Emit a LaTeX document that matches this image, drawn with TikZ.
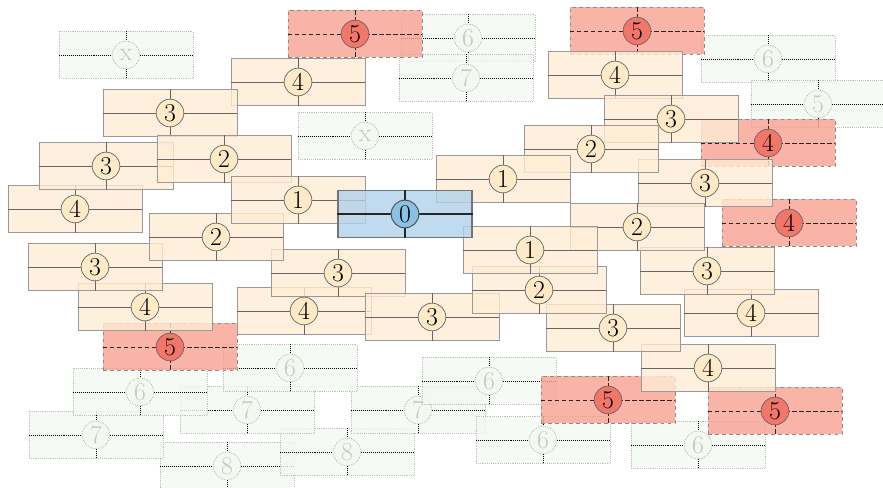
\documentclass[tikz,border=0pt]{standalone}
\begin{document}
\begin{tikzpicture}[x=0.03cm,y=-0.03cm]
\definecolor{ofill}{RGB}{255,236,212}
\definecolor{ocirc}{RGB}{255,234,200}
\definecolor{rfill}{RGB}{248,160,145}
\definecolor{rcirc}{RGB}{242,118,106}
\definecolor{gfill}{RGB}{243,249,241}
\definecolor{bfill}{RGB}{176,209,236}
\definecolor{bcirc}{RGB}{138,194,230}
\tikzset{
 cellbox/.style={rectangle, minimum width=4.02cm, minimum height=1.41cm, inner sep=0pt, fill opacity=0.8},
 cellcirc/.style={circle, minimum size=0.83cm, inner sep=0pt, font=\fontsize{22}{22}\selectfont},
 obox/.style={cellbox, fill=ofill, draw=gray!80, line width=0.6pt},
 oline/.style={draw=black!60, line width=0.6pt},
 ocirc/.style={cellcirc, fill=ocirc, draw=black!60, line width=0.6pt},
 rbox/.style={cellbox, fill=rfill, draw=gray!90, dashed, line width=0.8pt},
 rline/.style={draw=black!85, dash pattern=on 4pt off 2pt, line width=0.8pt},
 rcirc/.style={cellcirc, fill=rcirc, draw=black!60, line width=0.6pt},
 gbox/.style={cellbox, fill=gfill, draw=gray!50, densely dotted, line width=0.6pt},
 gline/.style={draw=black, densely dotted, line width=0.7pt},
 gcirc/.style={cellcirc, fill=gfill, draw=gray!70, densely dotted, line width=0.6pt, text=gray!45},
 bbox/.style={cellbox, fill=bfill, draw=gray!90!black, line width=1.1pt},
 bline/.style={draw=black!85, line width=1.1pt},
 bcirc/.style={cellcirc, fill=bcirc, draw=black!70, line width=0.8pt},
}
\newcommand\cell[5]{%
 \node[#5box] (#1) at (#2,#3) {};
 \draw[#5line] (#1.west) -- (#1.east) (#1.north) -- (#1.south);
 \node[#5circ] (#1c) at (#1) {#4};
}
\useasboundingbox (0,0) rectangle (883,488);
\clip (0,0) rectangle (883,488);
% green (outermost)
\cell{ga}{126}{55}{x}{g}
\cell{gb}{365}{136}{x}{g}
\cell{gc}{468}{38}{6}{g}
\cell{gd}{466}{78}{7}{g}
\cell{ge}{768}{59}{6}{g}
\cell{gf}{818}{104}{5}{g}
\cell{gg}{227}{466}{8}{g}
\cell{gh}{347}{452}{8}{g}
\cell{gi}{96}{435}{7}{g}
\cell{gj}{247}{410}{7}{g}
\cell{gk}{418}{410}{7}{g}
\cell{gl}{140}{392}{6}{g}
\cell{gm}{290}{368}{6}{g}
\cell{gn}{489}{381}{6}{g}
\cell{go}{543}{440}{6}{g}
\cell{gp}{698}{445}{6}{g}
% red
\cell{ra}{355}{34}{5}{r}
\cell{rb}{637}{31}{5}{r}
\cell{rc}{170}{347}{5}{r}
\cell{rd}{608}{400}{5}{r}
\cell{re}{775}{411}{5}{r}
\cell{rf}{768}{143}{4}{r}
\cell{rg}{789}{223}{4}{r}
% orange level 4
\cell{oa}{298}{82}{4}{o}
\cell{ob}{75}{209}{4}{o}
\cell{oc}{145}{307}{4}{o}
\cell{od}{304}{311}{4}{o}
\cell{oe}{615}{75}{4}{o}
\cell{of}{751}{313}{4}{o}
\cell{og}{708}{368}{4}{o}
% orange level 3
\cell{oh}{170}{113}{3}{o}
\cell{oi}{106}{166}{3}{o}
\cell{oj}{95}{267}{3}{o}
\cell{ok}{338}{273}{3}{o}
\cell{ol}{432}{317}{3}{o}
\cell{om}{671}{119}{3}{o}
\cell{on}{705}{183}{3}{o}
\cell{oo}{707}{271}{3}{o}
\cell{op}{613}{328}{3}{o}
% orange level 2
\cell{oq}{224}{159}{2}{o}
\cell{or}{216}{237}{2}{o}
\cell{os}{591}{149}{2}{o}
\cell{ot}{637}{227}{2}{o}
\cell{ou}{539}{290}{2}{o}
% orange level 1
\cell{ov}{298}{200}{1}{o}
\cell{ow}{503}{179}{1}{o}
\cell{ox}{530}{250}{1}{o}
% root
\cell{root}{405}{214}{0}{b}
\end{tikzpicture}
\end{document}
